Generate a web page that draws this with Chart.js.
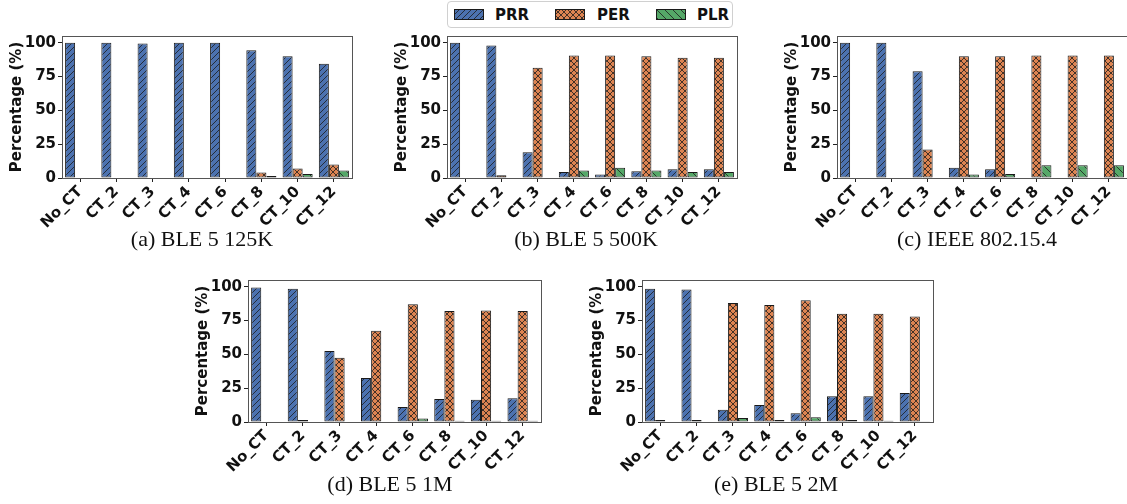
<!DOCTYPE html>
<html>
<head>
<meta charset="utf-8">
<script src="https://cdn.jsdelivr.net/npm/chart.js@4/dist/chart.umd.min.js"></script>
<style>
  body { margin: 0; width: 1127px; height: 504px; background: #fff; position: relative; overflow: hidden; }
  canvas.panel { position: absolute; }
  .caption { position: absolute; width: 300px; text-align: center; font-family: "Liberation Serif", serif; font-size: 22px; color: #111; }
  #legend { position: absolute; left: 447px; top: 1px; width: 284px; height: 25px; border: 1px solid #d0d0d0; border-radius: 4px; background: #fff; }
  #legend canvas { position: absolute; top: 7px; }
  #legend span { position: absolute; top: 4px; font-family: "DejaVu Sans", sans-serif; font-weight: bold; font-size: 15px; color: #111; }
</style>
</head>
<body>
<div id="legend"></div>
<script>
const categories = ['No_CT', 'CT_2', 'CT_3', 'CT_4', 'CT_6', 'CT_8', 'CT_10', 'CT_12'];
const seriesNames = ['PRR', 'PER', 'PLR'];
const yTicks = [0, 25, 50, 75, 100];

// (a) BLE 5 125K
const prr125k = [100, 100, 99.5, 100, 100, 94.5, 90, 84.5];
const per125k = [0.3, 0.3, 0.3, 0.3, 0.3, 4, 7, 10];
const plr125k = [0.3, 0.3, 0.3, 0.3, 0.3, 1.5, 3, 5.5];
// (b) BLE 5 500K
const prr500k = [100, 98, 19, 4.5, 2.5, 5, 6.5, 6.5];
const per500k = [0.3, 2, 81.5, 90.5, 90.5, 90, 89, 89];
const plr500k = [0.3, 0.3, 0.3, 5.5, 7.5, 5.5, 4.5, 4.5];
// (c) IEEE 802.15.4
const prrIeee = [100, 100, 79, 7.5, 6.5, 0, 0, 0.3];
const perIeee = [0.3, 0.3, 21, 90, 90, 90.5, 90.5, 90.5];
const plrIeee = [0.3, 0.3, 0.3, 2.5, 3, 9.5, 9.5, 9.5];
// (d) BLE 5 1M
const prr1m = [99.5, 98.5, 52.5, 32.5, 11, 17, 16.5, 17.5];
const per1m = [0.3, 1.5, 47.5, 67.5, 87, 82, 82.5, 82];
const plr1m = [0.3, 0.3, 0.3, 0.3, 2.5, 1, 1, 1];
// (e) BLE 5 2M
const prr2m = [98.5, 98, 9, 12.5, 6.5, 19, 19, 21.5];
const per2m = [1.5, 1.5, 88, 86.5, 90, 80, 80, 78];
const plr2m = [0.3, 0.3, 3, 1.5, 3.5, 1.5, 1, 0.5];

const colors = ['#4C72B0', '#DD8452', '#55A868'];

function hatch(color, kind, s) {
    const c = document.createElement('canvas');
    c.width = s; c.height = s;
    const g = c.getContext('2d');
    g.fillStyle = color;
    g.fillRect(0, 0, s, s);
    g.strokeStyle = '#1c1c1c';
    g.lineWidth = 0.8;
    g.beginPath();
    if (kind === '/' || kind === 'x') {
        g.moveTo(-1, s + 1); g.lineTo(s + 1, -1);
        g.moveTo(-1, 1); g.lineTo(1, -1);
        g.moveTo(s - 1, s + 1); g.lineTo(s + 1, s - 1);
    }
    if (kind === '\\' || kind === 'x') {
        g.moveTo(-1, -1); g.lineTo(s + 1, s + 1);
        g.moveTo(s - 1, -1); g.lineTo(s + 1, 1);
        g.moveTo(-1, s - 1); g.lineTo(1, s + 1);
    }
    g.stroke();
    return c;
}

const tiles = [hatch(colors[0], '/', 6), hatch(colors[1], 'x', 6), hatch(colors[2], '\\', 8)];

function pattern(ctx, i) {
    return ctx.createPattern(tiles[i], 'repeat');
}

const panels = [
    { name: '(a) BLE 5 125K', data: [prr125k, per125k, plr125k], left: 62, top: 33, right: 352, bottom: 178, cap: 202, capTop: 226 },
    { name: '(b) BLE 5 500K', data: [prr500k, per500k, plr500k], left: 447, top: 33, right: 737, bottom: 178, cap: 586, capTop: 226 },
    { name: '(c) IEEE 802.15.4', data: [prrIeee, perIeee, plrIeee], left: 837, top: 33, right: 1127, bottom: 178, cap: 977, capTop: 226 },
    { name: '(d) BLE 5 1M', data: [prr1m, per1m, plr1m], left: 248, top: 277, right: 541, bottom: 422, cap: 390, capTop: 471 },
    { name: '(e) BLE 5 2M', data: [prr2m, per2m, plr2m], left: 642, top: 277, right: 933, bottom: 422, cap: 776, capTop: 471 }
];

const tickFont = { family: 'DejaVu Sans', weight: 'bold', size: 15 };

const frame = {
    id: 'frame',
    afterDraw(chart) {
        const a = chart.chartArea, g = chart.ctx;
        g.save();
        g.strokeStyle = '#555';
        g.lineWidth = 1;
        g.strokeRect(Math.round(a.left) + 0.5, Math.round(a.top) + 0.5, Math.round(a.right - a.left), Math.round(a.bottom - a.top));
        g.restore();
    }
};

panels.forEach(p => {
    const cv = document.createElement('canvas');
    cv.className = 'panel';
    const w = p.right - p.left + 72, h = p.bottom - p.top + 68;
    cv.width = w; cv.height = h;
    cv.style.left = (p.left - 62) + 'px';
    cv.style.top = (p.top - 8) + 'px';
    cv.style.width = w + 'px';
    cv.style.height = h + 'px';
    document.body.appendChild(cv);

    const cap = document.createElement('div');
    cap.className = 'caption';
    cap.textContent = p.name;
    cap.style.left = (p.cap - 150) + 'px';
    cap.style.top = p.capTop + 'px';
    document.body.appendChild(cap);

    const ctx = cv.getContext('2d');
    new Chart(ctx, {
        type: 'bar',
        data: {
            labels: categories,
            datasets: seriesNames.map((n, i) => ({
                label: n,
                data: p.data[i],
                backgroundColor: pattern(ctx, i),
                borderColor: '#1a1a1a',
                borderWidth: 1,
                borderSkipped: false,
                categoryPercentage: 0.83,
                barPercentage: 1
            }))
        },
        options: {
            responsive: false,
            animation: false,
            layout: { padding: { left: 0, top: 8, right: 10, bottom: 0 } },
            plugins: { legend: { display: false }, tooltip: { enabled: false } },
            scales: {
                x: {
                    offset: true,
                    grid: { display: true, offset: false, drawOnChartArea: false, drawTicks: true, tickLength: 4, color: '#222' },
                    border: { display: true, color: '#555' },
                    ticks: { color: '#111', font: tickFont, minRotation: 45, maxRotation: 45, padding: 1, autoSkip: false },
                    afterFit(s) { s.height = 60; }
                },
                y: {
                    min: 0,
                    max: 105,
                    afterBuildTicks(s) { s.ticks = yTicks.map(v => ({ value: v })); },
                    grid: { display: true, drawOnChartArea: false, drawTicks: true, tickLength: 4, color: '#222' },
                    border: { display: true, color: '#555' },
                    ticks: { color: '#111', font: tickFont, padding: 2 },
                    title: { display: true, text: 'Percentage (%)', color: '#111', font: tickFont, padding: { top: 8, bottom: 0 } },
                    afterFit(s) { s.width = 62; }
                }
            }
        },
        plugins: [frame]
    });
});

// legend
const legend = document.getElementById('legend');
const swatchX = [6, 107, 208];
const textX = [47, 149, 249];
seriesNames.forEach((n, i) => {
    const c = document.createElement('canvas');
    c.width = 30; c.height = 11;
    c.style.left = swatchX[i] + 'px';
    const g = c.getContext('2d');
    g.fillStyle = g.createPattern(tiles[i], 'repeat');
    g.fillRect(0, 0, 30, 11);
    g.strokeStyle = '#1a1a1a';
    g.strokeRect(0.5, 0.5, 29, 10);
    legend.appendChild(c);
    const t = document.createElement('span');
    t.textContent = n;
    t.style.left = textX[i] + 'px';
    legend.appendChild(t);
});
</script>
</body>
</html>
